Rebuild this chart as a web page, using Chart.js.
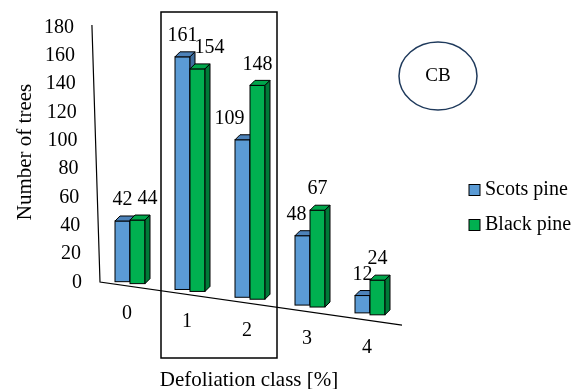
<!DOCTYPE html>
<html>
<head>
<meta charset="utf-8">
<script src="https://cdn.jsdelivr.net/npm/chart.js@4.4.1/dist/chart.umd.min.js"></script>
<style>
  html, body { margin: 0; padding: 0; background: #fff; }
  #wrap { width: 583px; height: 389px; }
</style>
</head>
<body>
<div id="wrap"><canvas id="chart" width="583" height="389"></canvas></div>
<script>
// Defoliation classes and tree counts per species
const categories = ['0', '1', '2', '3', '4'];
const scotsPine = [42, 161, 109, 48, 12];
const blackPine = [44, 154, 148, 67, 24];
const seriesNames = ['Scots pine', 'Black pine'];
const yMax = 180;
const yStep = 20;

const FONT = '"Liberation Serif", "Times New Roman", serif';

// front / top / side colours of the 3D columns
const faces = [
    { front: '#5b9bd5', top: '#4d82b9', side: '#3e6d9c' },
    { front: '#00b050', top: '#00a64b', side: '#007a38' }
];
const depth = { dx: 5, dy: -5 };
const floorSlope = 0.143;   // front edge of the floor
const barSlope = 0.130;     // where the columns stand
const nearScale = 1.02;     // columns sit a bit closer than the wall
// manual nudges of some value labels (px)
const labelNudge = [[0, 0, -13, -6, 0], [10, 12, 0, 0, 0]];

const perspective = {
    id: 'perspective',
    beforeDatasetsDraw() {
        // columns are drawn by hand in afterDraw
        return false;
    },
    afterDraw(chart) {
        const ctx = chart.ctx;
        const area = chart.chartArea;
        const xs = chart.scales.x;
        const ys = chart.scales.y;
        const base0 = ys.getPixelForValue(0);
        const topY = ys.getPixelForValue(yMax);
        const wallX = y => area.left - 8 * (base0 - y) / (base0 - topY);
        const floorY = x => base0 - 0.5 + floorSlope * (x - area.left);
        const shift = x => barSlope * (x - area.left) - 3.75;
        // top of a column, measured up from its own foot
        const colTop = p => p.base + shift(p.x) - (p.base - p.y) * nearScale;

        ctx.save();
        ctx.fillStyle = '#000';
        ctx.strokeStyle = '#000';

        // back wall and floor edges
        ctx.lineWidth = 1.2;
        ctx.beginPath();
        ctx.moveTo(wallX(topY - 2.5), topY - 2.5);
        ctx.lineTo(area.left, base0 - 0.5);
        ctx.lineTo(area.right + 2, floorY(area.right + 2));
        ctx.stroke();

        // y ticks follow the slanted wall
        ctx.font = '20px ' + FONT;
        ctx.textAlign = 'right';
        ctx.textBaseline = 'middle';
        ys.ticks.forEach(t => {
            const y = ys.getPixelForValue(t.value);
            ctx.fillText(t.label, wallX(y) - 18, y);
        });

        // y title
        ctx.save();
        ctx.font = '21px ' + FONT;
        ctx.textAlign = 'center';
        ctx.translate(25, 152);
        ctx.rotate(-Math.PI / 2);
        ctx.fillText('Number of trees', 0, 0);
        ctx.restore();

        // category labels under the floor
        ctx.font = '20px ' + FONT;
        ctx.textAlign = 'center';
        categories.forEach((c, i) => {
            const cx = xs.getPixelForValue(i);
            ctx.fillText(c, cx - 3, floorY(cx) + 27);
        });

        // x title
        ctx.font = '21px ' + FONT;
        ctx.fillText('Defoliation class [%]', (area.left + area.right) / 2 - 1, 380);

        // frame around classes 1 and 2
        const band = (area.right - area.left) / categories.length;
        const bx0 = xs.getPixelForValue(1) - band / 2 + 1;
        const bx1 = xs.getPixelForValue(2) + band / 2 - 3;
        ctx.lineWidth = 1.5;
        ctx.strokeRect(bx0, 12, bx1 - bx0, 346);

        // 3D columns
        ctx.lineWidth = 1;
        ctx.lineJoin = 'miter';
        chart.data.datasets.forEach((ds, d) => {
            const meta = chart.getDatasetMeta(d);
            const f = faces[d];
            meta.data.forEach(bar => {
                const p = bar.getProps(['x', 'y', 'base', 'width'], true);
                const l = p.x - p.width / 2, r = p.x + p.width / 2;
                const t = colTop(p), b = p.base + shift(p.x);

                ctx.fillStyle = f.front;
                ctx.fillRect(l, t, r - l, b - t);
                ctx.strokeRect(l, t, r - l, b - t);

                ctx.beginPath();
                ctx.moveTo(l, t);
                ctx.lineTo(l + depth.dx, t + depth.dy);
                ctx.lineTo(r + depth.dx, t + depth.dy);
                ctx.lineTo(r, t);
                ctx.closePath();
                ctx.fillStyle = f.top;
                ctx.fill();
                ctx.stroke();

                ctx.beginPath();
                ctx.moveTo(r, t);
                ctx.lineTo(r + depth.dx, t + depth.dy);
                ctx.lineTo(r + depth.dx, b + depth.dy);
                ctx.lineTo(r, b);
                ctx.closePath();
                ctx.fillStyle = f.side;
                ctx.fill();
                ctx.stroke();
            });
        });

        // value labels
        ctx.fillStyle = '#000';
        ctx.font = '20px ' + FONT;
        ctx.textAlign = 'center';
        chart.data.datasets.forEach((ds, d) => {
            const meta = chart.getDatasetMeta(d);
            meta.data.forEach((bar, i) => {
                const p = bar.getProps(['x', 'y', 'base'], true);
                ctx.fillText(String(ds.data[i]), p.x + labelNudge[d][i], colTop(p) - 21);
            });
        });

        // CB marker
        ctx.strokeStyle = '#1f3a5c';
        ctx.lineWidth = 1.5;
        ctx.beginPath();
        ctx.ellipse(438, 76, 39, 34, 0, 0, Math.PI * 2);
        ctx.stroke();
        ctx.font = '19px ' + FONT;
        ctx.fillText('CB', 438, 76);

        // legend
        ctx.strokeStyle = '#000';
        ctx.lineWidth = 1;
        ctx.font = '20px ' + FONT;
        ctx.textAlign = 'left';
        chart.data.datasets.forEach((ds, d) => {
            const cy = 190 + d * 35;
            ctx.fillStyle = ds.backgroundColor;
            ctx.fillRect(469, cy - 5.5, 11, 11);
            ctx.strokeRect(469, cy - 5.5, 11, 11);
            ctx.fillStyle = '#000';
            ctx.fillText(ds.label, 485, cy);
        });

        ctx.restore();
    }
};

const chart = new Chart(document.getElementById('chart'), {
    type: 'bar',
    data: {
        labels: categories,
        datasets: [
            { label: seriesNames[0], data: scotsPine, backgroundColor: faces[0].front },
            { label: seriesNames[1], data: blackPine, backgroundColor: faces[1].front }
        ]
    },
    options: {
        responsive: false,
        animation: false,
        layout: {
            padding: { left: 100, right: 183, top: 27.5, bottom: 106.5 }
        },
        datasets: {
            bar: { categoryPercentage: 0.5, barPercentage: 1 }
        },
        scales: {
            x: { display: false },
            y: { display: false, min: 0, max: yMax, ticks: { stepSize: yStep } }
        },
        plugins: {
            legend: { display: false },
            tooltip: { enabled: false }
        }
    },
    plugins: [perspective]
});
</script>
</body>
</html>
